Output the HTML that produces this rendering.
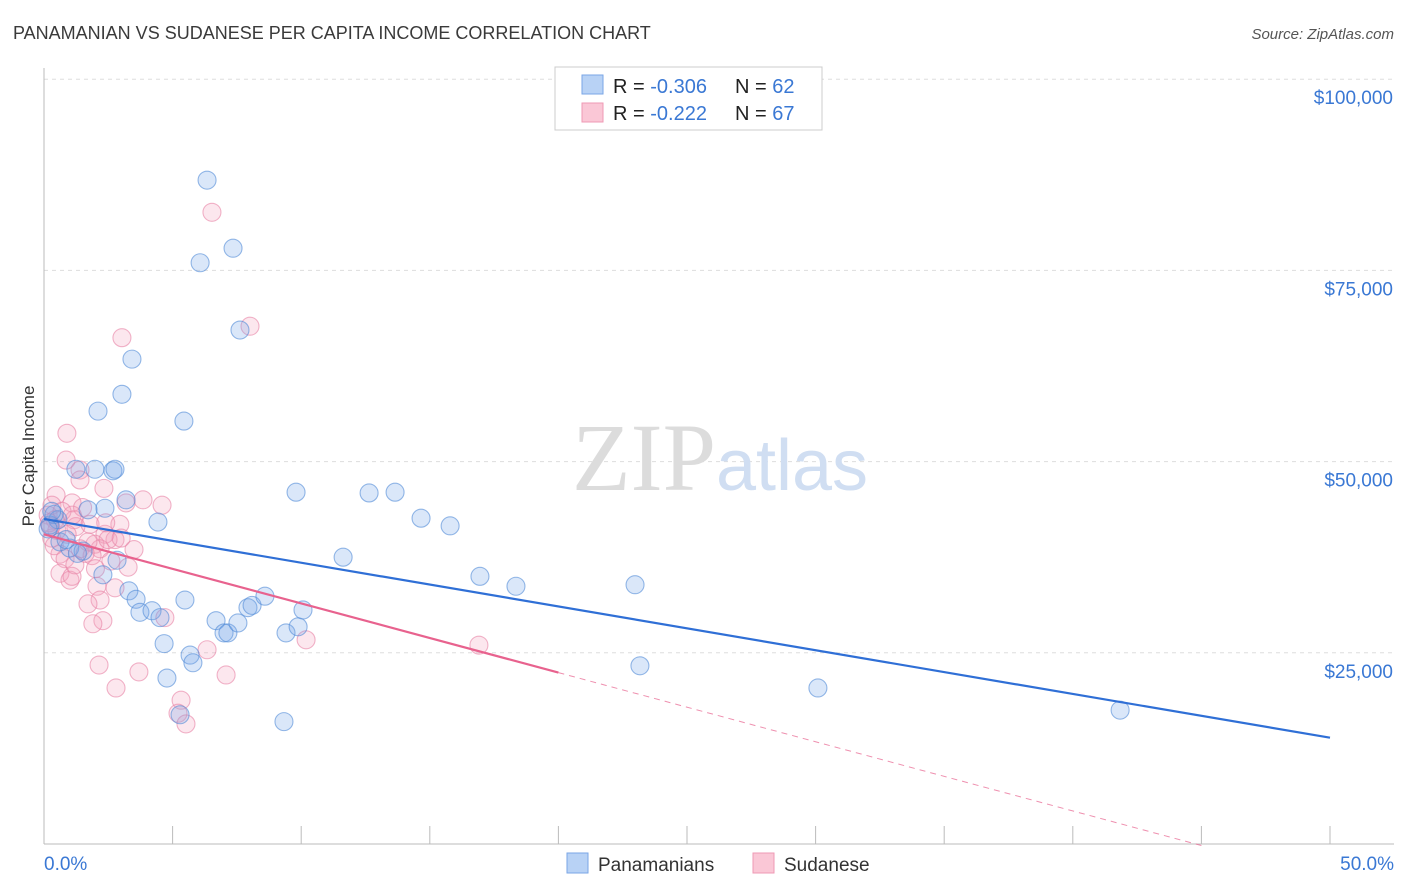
<!DOCTYPE html>
<html><head><meta charset="utf-8"><style>
body{margin:0;background:#fff;font-family:"Liberation Sans",sans-serif;}
svg{display:block}
</style></head><body>
<svg id="chart" width="1406" height="892" xmlns="http://www.w3.org/2000/svg">
<text x="13" y="39" font-size="18" fill="#3a3a3a">PANAMANIAN VS SUDANESE PER CAPITA INCOME CORRELATION CHART</text>
<text x="1394" y="39" font-size="15" fill="#555" text-anchor="end" font-style="italic">Source: ZipAtlas.com</text>
<g id="grid"></g>
<line x1="44" y1="844" x2="1394" y2="844" stroke="#bbb"/>
<line x1="44" y1="68" x2="44" y2="844" stroke="#bbb"/>
<g id="ticks"></g>
<text x="720" y="490" font-size="96" text-anchor="middle" font-family="Liberation Serif,serif" fill="#ddd"><tspan fill="#dcdcdc">ZIP</tspan><tspan fill="#d0def2" font-family="Liberation Sans,sans-serif" font-size="72">atlas</tspan></text>
<text transform="translate(34,456) rotate(-90)" font-size="17" fill="#333" text-anchor="middle">Per Capita Income</text>
<g id="pts"></g>
<g id="lines"></g>
<g>
<rect x="555" y="67" width="267" height="63" fill="#fff" stroke="#ccc"/>
<rect x="582" y="75" width="21" height="19" fill="#b8d2f5" stroke="#7aa6e6"/>
<rect x="582" y="103" width="21" height="19" fill="#fac7d6" stroke="#ef9ab4"/>
<text x="613" y="93" font-size="20" fill="#222">R = <tspan fill="#3a78d4">-0.306</tspan><tspan x="735">N = </tspan><tspan fill="#3a78d4">62</tspan></text>
<text x="613" y="120" font-size="20" fill="#222">R = <tspan fill="#3a78d4"> -0.222</tspan><tspan x="735">N = </tspan><tspan fill="#3a78d4">67</tspan></text>
</g>
<g>
<rect x="567" y="853" width="21" height="20" fill="#b8d2f5" stroke="#7aa6e6"/>
<text x="598" y="871" font-size="19" fill="#333">Panamanians</text>
<rect x="753" y="853" width="21" height="20" fill="#fac7d6" stroke="#ef9ab4"/>
<text x="784" y="871" font-size="19" fill="#333">Sudanese</text>
</g>
</svg>
<script>
const yTicks=[25000,50000,75000,100000];
const yTickLabels=["$25,000","$50,000","$75,000","$100,000"];
const xTickVals=[0,5,10,15,20,25,30,35,40,45,50];
const xEndLabels=["0.0%","50.0%"];
const blueX=[6.34,6.07,7.35,7.62,3.42,3.03,2.10,5.44,1.24,1.98,2.68,2.76,3.19,2.37,4.43,9.8,12.64,13.65,14.66,15.79,11.63,16.95,18.35,22.98,23.17,30.09,41.84,1.71,0.54,0.23,0.62,1.0,1.52,2.84,2.29,3.3,3.58,3.73,4.2,4.51,5.48,6.69,7.0,7.15,7.54,7.93,8.09,8.59,9.41,9.88,10.07,4.67,4.78,5.68,5.79,5.29,9.33,0.39,0.16,0.86,0.3,1.3];
const blueY=[86.8,76.0,77.9,67.2,63.4,58.8,56.6,55.3,49.0,49.0,48.8,49.0,45.0,43.9,42.1,46.0,45.9,46.0,42.6,41.6,37.5,35.0,33.7,33.9,23.3,20.4,17.5,43.7,42.4,41.7,39.5,38.7,38.3,37.1,35.2,33.1,32.0,30.3,30.5,29.6,31.9,29.2,27.6,27.6,28.9,30.9,31.2,32.4,27.6,28.4,30.6,26.2,21.7,24.7,23.7,16.9,16.0,43.1,41.2,39.8,43.5,38.0];
const pinkX=[6.53,8.01,3.03,0.89,0.86,1.40,1.4,2.33,3.85,4.59,3.19,1.09,0.47,0.31,0.16,0.43,1.17,1.24,2.95,2.76,1.79,2.37,1.98,2.18,1.71,0.62,0.82,1.4,1.87,2.49,0.62,1.01,1.09,2.06,2.76,3.27,2.18,1.71,2.29,1.9,4.7,10.19,6.34,16.91,2.14,3.69,7.08,2.8,5.33,5.21,5.52,0.3,0.5,0.9,1.6,2.6,3.5,0.2,1.2,2.0,0.7,1.5,3.0,0.4,2.4,1.1,0.25];
const pinkY=[82.6,67.7,66.2,53.7,50.2,48.9,47.6,46.5,45.0,44.3,44.6,44.6,45.6,44.3,43.0,42.4,42.4,41.5,41.8,39.8,41.8,40.5,39.2,38.6,39.5,37.9,37.3,38.6,37.7,39.8,35.4,34.5,35.0,33.7,33.5,36.2,31.9,31.4,29.2,28.8,29.6,26.7,25.4,26.0,23.4,22.5,22.1,20.4,18.8,17.1,15.7,40.0,41.0,40.5,38.0,37.0,38.5,42.0,36.5,36.0,43.5,44.0,40.0,39.0,42.0,43.0,41.5];
const blueFit=[42.5,13.9];
const pinkFit=[40.5,-0.2];
const pinkSolidEnd=20;
const NS="http://www.w3.org/2000/svg";
const X=v=>44+v/50*1286;
const Y=k=>844-k/25*191.2;
function el(t,a,p){const e=document.createElementNS(NS,t);for(const k in a)e.setAttribute(k,a[k]);p.appendChild(e);return e;}
const grid=document.getElementById('grid'),ticks=document.getElementById('ticks');
yTicks.forEach((v,i)=>{const y=Y(v/1000);
const l=el('line',{x1:44,x2:1394,y1:y,y2:y,stroke:'#ddd','stroke-dasharray':'4,4'},grid);


const t=el('text',{x:1393,y:y+25,'font-size':19,fill:'#3a78d4','text-anchor':'end'},ticks);


t.textContent=yTickLabels[i];});
xTickVals.forEach(v=>{const x=X(v);
const l=el('line',{x1:x,x2:x,y1:826,y2:844,stroke:'#bbb'},ticks);

});
[[0,'start',44],[1,'end',1394]].forEach(([i,a,x])=>{const t=el('text',{x:x,y:870,'font-size':19,fill:'#3a78d4','text-anchor':a},ticks);


t.textContent=xEndLabels[i];});
const pts=document.getElementById('pts');
pinkX.forEach((x,i)=>{const c=el('circle',{cx:X(x),cy:Y(pinkY[i]),r:9,fill:'rgba(244,160,188,0.25)',stroke:'rgba(232,130,165,0.6)','stroke-width':1.1},pts);

});
blueX.forEach((x,i)=>{const c=el('circle',{cx:X(x),cy:Y(blueY[i]),r:9,fill:'rgba(120,168,232,0.27)',stroke:'rgba(80,138,215,0.6)','stroke-width':1.1},pts);

});
const lines=document.getElementById('lines');
const pf=x=>pinkFit[0]+(pinkFit[1]-pinkFit[0])*x/45;
let l=el('line',{x1:X(0),y1:Y(blueFit[0]),x2:X(50),y2:Y(blueFit[1]),stroke:'#2f6fd6','stroke-width':2.2},lines);


l=el('line',{x1:X(0),y1:Y(pf(0)),x2:X(pinkSolidEnd),y2:Y(pf(pinkSolidEnd)),stroke:'#e8628e','stroke-width':2.2},lines);


l=el('line',{x1:X(pinkSolidEnd),y1:Y(pf(pinkSolidEnd)),x2:X(45),y2:Y(pf(45)),stroke:'#e8628e','stroke-width':1,'stroke-dasharray':'6,5','opacity':0.7},lines);


</script>
</body></html>
